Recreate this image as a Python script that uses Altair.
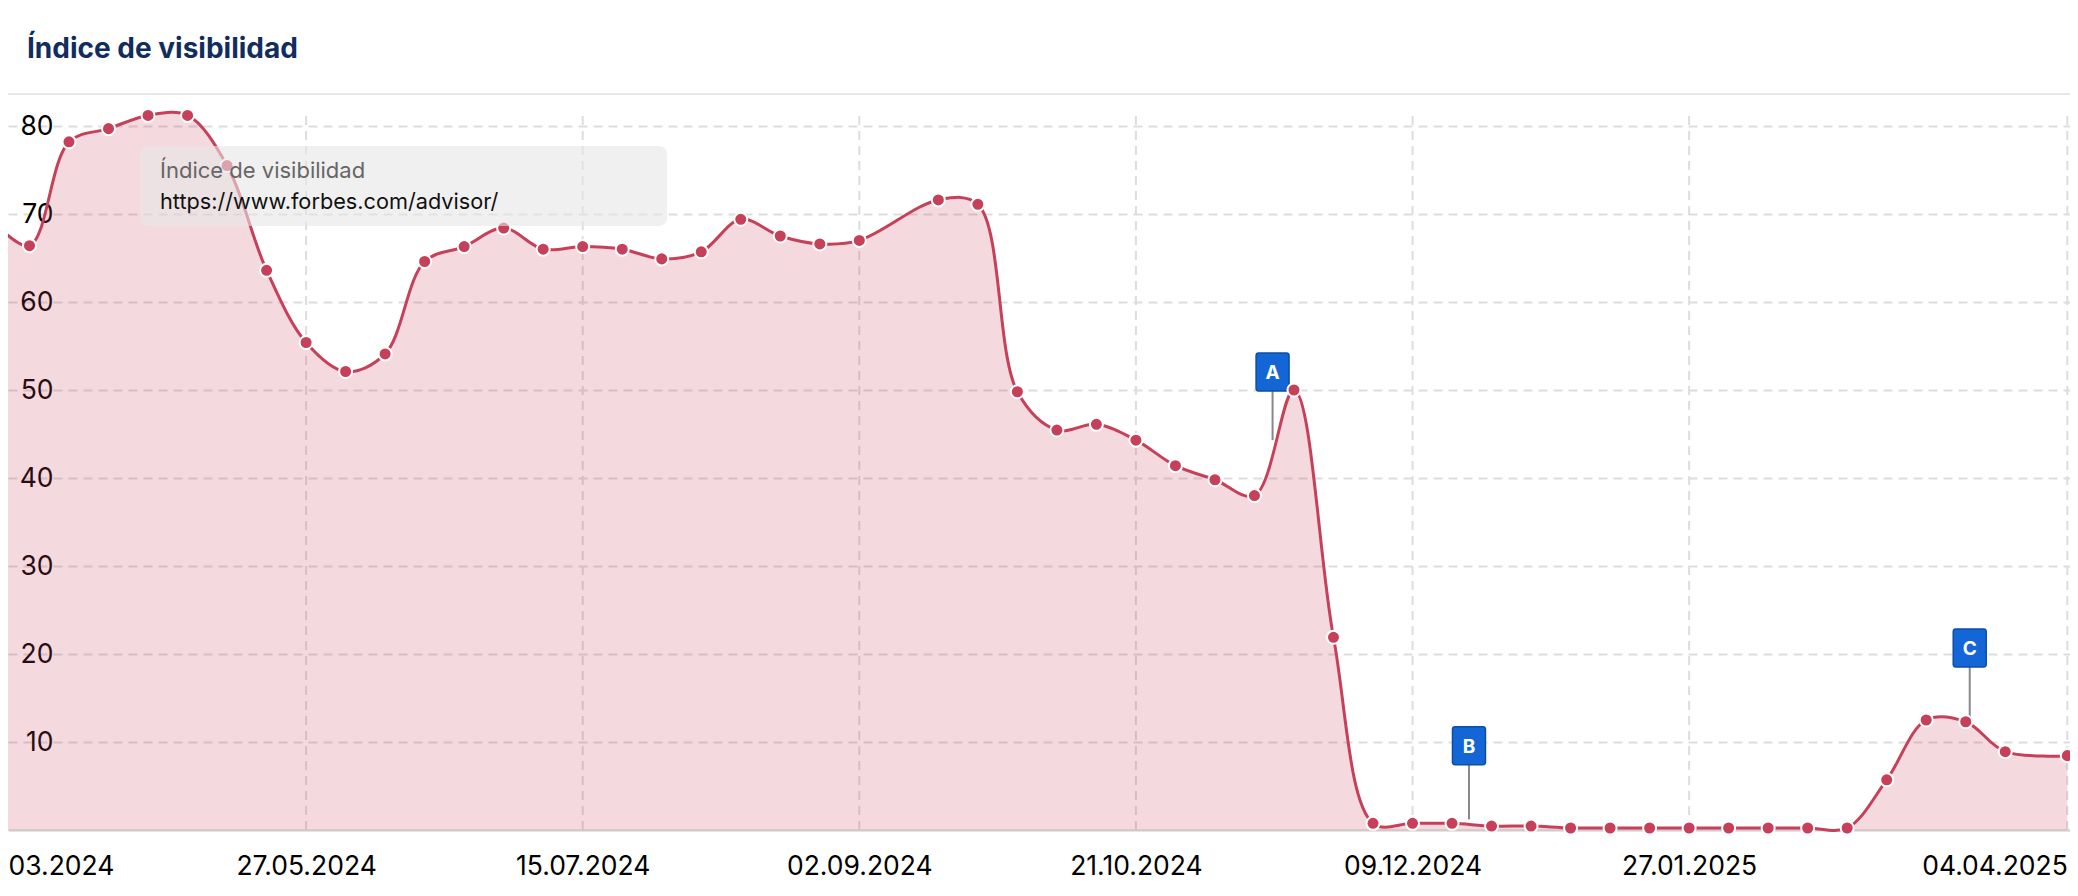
import altair as alt
import pandas as pd

# ---------------- data ----------------
dates = [
    "2024-04-01", "2024-04-08", "2024-04-15", "2024-04-22", "2024-04-29",
    "2024-05-06", "2024-05-13", "2024-05-20", "2024-05-27", "2024-06-03",
    "2024-06-10", "2024-06-17", "2024-06-24", "2024-07-01", "2024-07-08",
    "2024-07-15", "2024-07-22", "2024-07-29", "2024-08-05", "2024-08-12",
    "2024-08-19", "2024-08-26", "2024-09-02", "2024-09-16", "2024-09-23",
    "2024-09-30", "2024-10-07", "2024-10-14", "2024-10-21", "2024-10-28",
    "2024-11-04", "2024-11-11", "2024-11-18", "2024-11-25", "2024-12-02",
    "2024-12-09", "2024-12-16", "2024-12-23", "2024-12-30", "2025-01-06",
    "2025-01-13", "2025-01-20", "2025-01-27", "2025-02-03", "2025-02-10",
    "2025-02-17", "2025-02-24", "2025-03-03", "2025-03-10", "2025-03-17",
    "2025-03-24", "2025-04-04",
]
values = [
    69.5, 66.4, 78.2, 79.7, 81.2,
    81.2, 75.5, 63.6, 55.4, 52.1,
    54.1, 64.6, 66.3, 68.4, 66.0,
    66.3, 66.0, 64.9, 65.7, 69.4,
    67.5, 66.6, 67.0, 71.6, 71.1,
    49.8, 45.45, 46.1, 44.3, 41.4,
    39.8, 38.0, 50.0, 21.9, 0.76,
    0.76, 0.76, 0.45, 0.45, 0.23,
    0.23, 0.23, 0.23, 0.23, 0.23,
    0.23, 0.23, 5.7, 12.5, 12.3,
    8.9, 8.45,
]

grid_dates = ["2024-05-27", "2024-07-15", "2024-09-02", "2024-10-21",
              "2024-12-09", "2025-01-27", "2025-04-04"]
# first tick sits at the left edge of the (cropped) plot
tick_dates = ["2024-05-27", "2024-07-15", "2024-09-02",
              "2024-10-21", "2024-12-09", "2025-01-27", "2025-04-04"]
tick_labels = ["03.2024", "27.05.2024", "15.07.2024", "02.09.2024",
               "21.10.2024", "09.12.2024", "27.01.2025", "04.04.2025"]
y_ticks = [10, 20, 30, 40, 50, 60, 70, 80]

event_letters = ["A", "B", "C"]
event_dates = ["2024-11-14T05:00:00Z", "2024-12-19T00:00:00Z", "2025-03-17T17:00:00Z"]
event_box_center = [52.05, 9.57, 20.68]
event_box_bottom = [49.9, 7.5, 18.55]
event_stem_end = [44.3, 1.2, 12.5]

title_text = "Índice de visibilidad"
tip_line1 = "Índice de visibilidad"
tip_line2 = "https://www.forbes.com/advisor/"

# ---------------- helpers ----------------
def to_iso(s):
    return pd.Timestamp(s, tz="UTC").strftime("%Y-%m-%dT%H:%M:%SZ")

def to_ms(s):
    return int(pd.Timestamp(s, tz="UTC").value // 10**6)

FONT = "Inter"
LINE = "#c7405a"
W, H = 2062, 714
PX_PER_DAY = 5.645
ref_day = pd.Timestamp("2024-05-27", tz="UTC")
d0 = ref_day - pd.Timedelta(days=(306.1 - 8) / PX_PER_DAY)
d1 = d0 + pd.Timedelta(days=W / PX_PER_DAY)
x_domain = [int(d0.value // 10**6), int(d1.value // 10**6)]

series = pd.DataFrame({"date": [to_iso(d) for d in dates], "value": values})
grid_df = pd.DataFrame({"date": [to_iso(d) for d in grid_dates]})
events = pd.DataFrame({
    "date": [to_iso(d) for d in event_dates],
    "letter": event_letters,
    "box": event_box_center,
    "box_bottom": event_box_bottom,
    "stem": event_stem_end,
})
one = pd.DataFrame({"k": [0]})

tick_ms = [x_domain[0]] + [to_ms(d) for d in tick_dates]
label_expr = "''"
for ms, lab in reversed(list(zip(tick_ms, tick_labels))):
    label_expr = f"abs(time(datum.value) - {ms}) < 1000 ? '{lab}' : {label_expr}"

x_scale = alt.Scale(type="utc", domain=x_domain)
y_scale = alt.Scale(domain=[0, H / 8.8], nice=False, zero=True)

x_axis = alt.Axis(
    values=tick_ms, labelExpr=label_expr, title=None, grid=False,
    ticks=False, tickSize=0, domain=True, domainColor="#cccccc", domainWidth=2,
    labelFont=FONT, labelFontSize=26.5, labelColor="#000000", labelPadding=44,
    labelBaseline="alphabetic", labelFlush=10, labelOverlap=False,
)
y_axis = alt.Axis(
    values=y_ticks, title=None, grid=True, gridDash=[9, 6], gridColor="#dddddd",
    gridWidth=2, domain=False, ticks=False, tickSize=0, labelPadding=-45,
    labelFont=FONT, labelFontSize=26.5, labelColor="#000000", labelAlign="right",
)

X = alt.X("date:T", scale=x_scale, axis=x_axis)

def Y(field):
    return alt.Y(f"{field}:Q", scale=y_scale, axis=y_axis)

vgrid = alt.Chart(grid_df).mark_rule(
    color="#dddddd", strokeWidth=2, strokeDash=[9, 6]
).encode(x=X)

area = alt.Chart(series).mark_area(
    interpolate="catmull-rom", fill=LINE, fillOpacity=0.2
).encode(x=X, y=Y("value"))

line = alt.Chart(series).mark_line(
    interpolate="catmull-rom", color=LINE, strokeWidth=3
).encode(x=X, y=Y("value"))

stems = alt.Chart(events).mark_rule(color="#888888", strokeWidth=2).encode(
    x=X, y=Y("stem"), y2="box_bottom:Q"
)

box_path = ("M -0.868,-0.86 Q -0.868,-1 -0.728,-1 L 0.728,-1 Q 0.868,-1 0.868,-0.86 "
            "L 0.868,0.86 Q 0.868,1 0.728,1 L -0.728,1 Q -0.868,1 -0.868,0.86 Z")
boxes = alt.Chart(events).mark_point(
    shape=box_path, size=1444, filled=True, fill="#1466d6", stroke="#0b4ea6",
    strokeWidth=1.5, opacity=1,
).encode(x=X, y=Y("box"))

letters = alt.Chart(events).mark_text(
    font=FONT, fontSize=19, fontWeight="bold", color="#ffffff",
    align="center", baseline="middle", dy=1,
).encode(x=X, y=Y("box"), text="letter:N")

points = alt.Chart(series).mark_circle(
    color=LINE, size=170, stroke="#ffffff", strokeWidth=2, opacity=1
).encode(x=X, y=Y("value"))

tip_box = alt.Chart(one).mark_rect(
    fill="#e6e6e6", opacity=0.6, cornerRadius=8
).encode(x=alt.value(132), x2=alt.value(659), y=alt.value(30), y2=alt.value(110))

tip1 = alt.Chart(one).mark_text(
    font=FONT, fontSize=22, color="#666666", align="left", baseline="alphabetic"
).encode(x=alt.value(152), y=alt.value(62), text=alt.value(tip_line1))

tip2 = alt.Chart(one).mark_text(
    font=FONT, fontSize=21.7, color="#111111", align="left", baseline="alphabetic"
).encode(x=alt.value(152), y=alt.value(93), text=alt.value(tip_line2))

title = alt.Chart(one).mark_text(
    font=FONT, fontSize=28, fontWeight="bold", color="#112d5e",
    align="left", baseline="alphabetic"
).encode(x=alt.value(19), y=alt.value(-58), text=alt.value(title_text))

separator = alt.Chart(one).mark_rule(color="#e8e8e8", strokeWidth=2).encode(
    x=alt.value(0), x2=alt.value(W), y=alt.value(-22)
)

chart = alt.layer(
    vgrid, area, line, stems, boxes, letters, points,
    tip_box, tip1, tip2, title, separator,
).properties(
    width=W, height=H,
    padding={"left": 0, "right": 0, "top": 108, "bottom": 58},
    autosize=alt.AutoSizeParams(type="none"),
    background="#ffffff",
).configure_view(stroke=None)

chart.save("out.html", embed_options={"renderer": "svg", "actions": False})
